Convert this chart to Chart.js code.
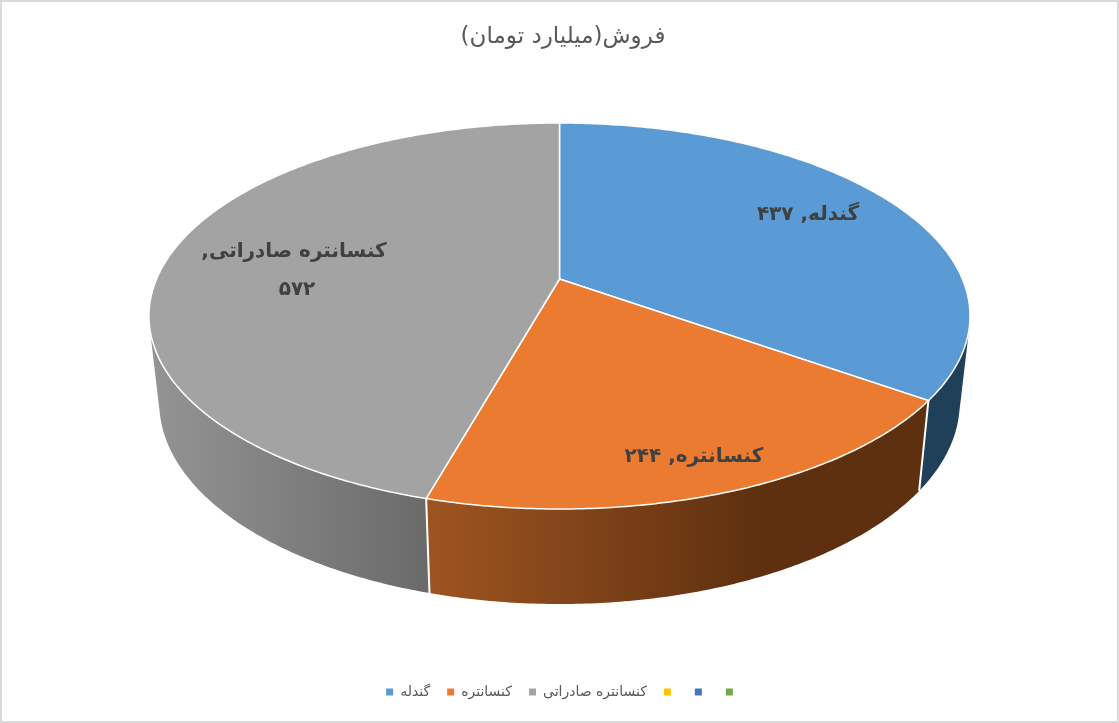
<!DOCTYPE html>
<html>
<head>
<meta charset="utf-8">
<style>
  body { margin: 0; background: #fff; }
  canvas { display: block; }
</style>
<script src="https://cdn.jsdelivr.net/npm/chart.js@4"></script>
</head>
<body>
<canvas id="chart1" dir="rtl" width="1119" height="723"></canvas>
<script>
const titleText = 'فروش(میلیارد تومان)';
const categories = ['گندله', 'کنسانتره', 'کنسانتره صادراتی', '', '', ''];
const sales = [437, 244, 572, 0, 0, 0];
const colors = ['#5b9bd5', '#eb7b30', '#a3a3a3', '#ffc000', '#4472c4', '#70ad47'];

// wall shading of each slice: [left colour, right colour, gradient start x, gradient end x]
const wallShades = [
  ['#20405a', '#20405a', 920, 970],
  ['#9e5420', '#5e3010', 430, 760],
  ['#949494', '#6a6a6a', 150, 430]
];
// centre of each data label, pixels; the third label is on two lines
const labelCentres = [[808, 215], [694, 457], [294, 271]];
const labelFont = 'bold 20px "DejaVu Sans"';
const labelLineHeight = 38;

// tilted disc: perspective projection fitted on the picture
const disc = { cx: 559.5, top: { y: 279, rx: 402.9, ry: 185.9 }, bottom: { y: 364, rx: 392.8, ry: 194 }, k: 0.1917 };

function project(face, angle, r) {
  const u = Math.cos(angle) * r;
  const v = Math.sin(angle) * r;
  const w = 1 - disc.k * v;
  return { x: disc.cx + face.rx * u / w, y: face.y + face.ry * v / w };
}

// points along the rim of a slice
function rim(face, start, end) {
  const pts = [];
  const steps = Math.max(2, Math.ceil((end - start) / 0.01));
  for (let i = 0; i <= steps; i++) {
    pts.push(project(face, start + (end - start) * i / steps, 1));
  }
  return pts;
}

function tracePath(ctx, pts) {
  pts.forEach(p => ctx.lineTo(p.x, p.y));
}

function toPersian(n) {
  return String(n).replace(/\d/g, d => '۰۱۲۳۴۵۶۷۸۹'[d]);
}

function signedArea(q) {
  let sum = 0;
  q.forEach((p, i) => {
    const n = q[(i + 1) % q.length];
    sum += p.x * n.y - n.x * p.y;
  });
  return sum;
}

const pie3d = {
  id: 'pie3d',
  beforeDatasetsDraw(chart) {
    const ctx = chart.ctx;
    const arcs = chart.getDatasetMeta(0).data;
    ctx.save();

    // walls: one small quad per rim step, all turned the same way so they fill as one shape
    arcs.forEach((arc, i) => {
      if (!sales[i]) return;
      const shade = wallShades[i];
      const g = ctx.createLinearGradient(shade[2], 0, shade[3], 0);
      g.addColorStop(0, shade[0]);
      g.addColorStop(1, shade[1]);
      const upper = rim(disc.top, arc.startAngle, arc.endAngle);
      const lower = rim(disc.bottom, arc.startAngle, arc.endAngle);
      ctx.beginPath();
      for (let s = 0; s < upper.length - 1; s++) {
        const quad = [upper[s], upper[s + 1], lower[s + 1], lower[s]];
        if (signedArea(quad) < 0) quad.reverse();
        ctx.moveTo(quad[0].x, quad[0].y);
        tracePath(ctx, quad.slice(1));
        ctx.closePath();
      }
      ctx.fillStyle = g;
      ctx.fill();
    });

    // white edges between the walls, only on the front side
    ctx.strokeStyle = '#fff';
    ctx.lineWidth = 2;
    arcs.forEach((arc, i) => {
      if (!sales[i] || Math.sin(arc.startAngle) <= 0) return;
      const a = project(disc.top, arc.startAngle, 1);
      const b = project(disc.bottom, arc.startAngle, 1);
      ctx.beginPath();
      ctx.moveTo(a.x, a.y);
      ctx.lineTo(b.x, b.y);
      ctx.stroke();
    });

    // top face
    arcs.forEach((arc, i) => {
      if (!sales[i]) return;
      const c = project(disc.top, 0, 0);
      ctx.beginPath();
      ctx.moveTo(c.x, c.y);
      tracePath(ctx, rim(disc.top, arc.startAngle, arc.endAngle));
      ctx.closePath();
      ctx.fillStyle = colors[i];
      ctx.fill();
      ctx.lineWidth = 1.5;
      ctx.stroke();
    });

    ctx.restore();
    return false;
  },
  afterDraw(chart) {
    const ctx = chart.ctx;
    ctx.save();
    // chart frame
    ctx.strokeStyle = '#d9d9d9';
    ctx.lineWidth = 2;
    ctx.strokeRect(1, 1, chart.width - 2, chart.height - 2);

    // data labels
    ctx.font = labelFont;
    ctx.fillStyle = '#404040';
    ctx.textAlign = 'center';
    ctx.textBaseline = 'middle';
    ctx.direction = 'rtl';
    labelCentres.forEach((pos, i) => {
      if (i === 2) {
        ctx.fillText(categories[i] + ',', pos[0], pos[1] - labelLineHeight / 2);
        ctx.fillText(toPersian(sales[i]), pos[0] + 3, pos[1] + labelLineHeight / 2);
      } else {
        ctx.fillText(categories[i] + ', ' + toPersian(sales[i]), pos[0], pos[1]);
      }
    });
    ctx.restore();
  }
};

new Chart(document.getElementById('chart1'), {
  type: 'pie',
  data: {
    labels: categories,
    datasets: [{ data: sales, backgroundColor: colors, borderWidth: 0 }]
  },
  options: {
    responsive: false,
    animation: false,
    layout: { padding: { left: 7, bottom: 14 } },
    plugins: {
      title: {
        display: true,
        text: titleText,
        color: '#595959',
        font: { family: '"DejaVu Sans"', size: 23, weight: 'normal' },
        padding: { top: 23, bottom: 10 }
      },
      legend: {
        position: 'bottom',
        textDirection: 'rtl',
        labels: {
          boxWidth: 7,
          boxHeight: 7,
          padding: 17,
          color: '#595959',
          font: { family: '"DejaVu Sans"', size: 14 }
        }
      },
      tooltip: { enabled: false }
    }
  },
  plugins: [pie3d]
});
</script>
</body>
</html>
